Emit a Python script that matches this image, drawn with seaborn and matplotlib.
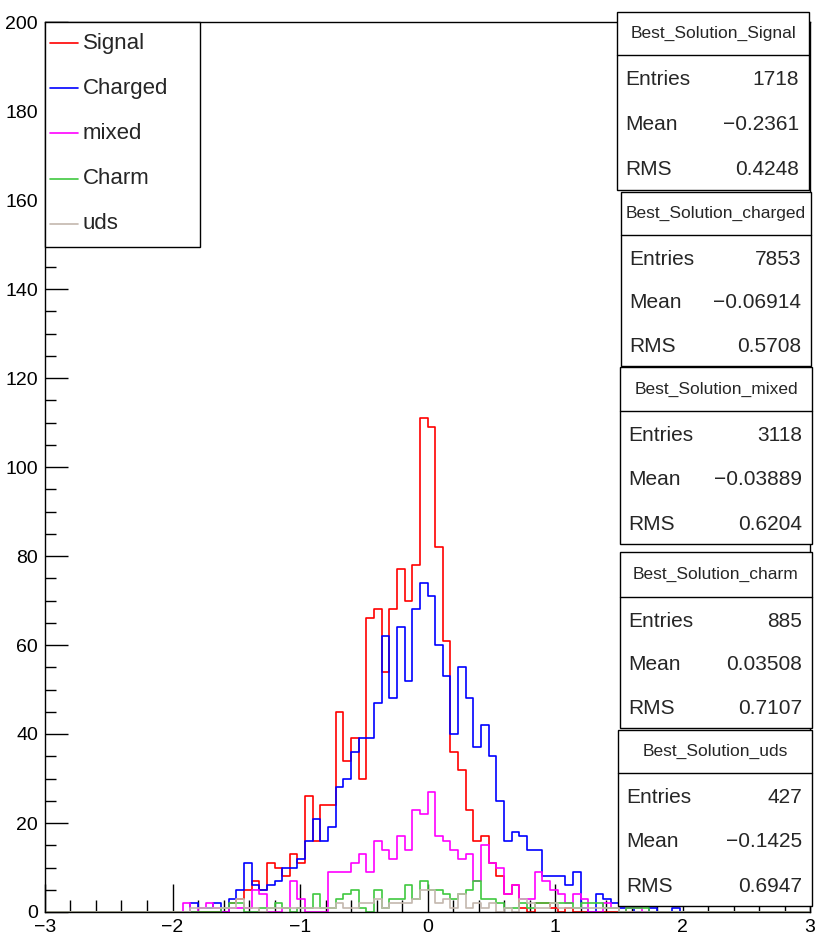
import numpy as np
import pandas as pd
import matplotlib
matplotlib.use('Agg')  # no display in the sandbox
import matplotlib.pyplot as plt
from matplotlib.patches import Rectangle
from matplotlib.lines import Line2D
from matplotlib.ticker import MultipleLocator
import seaborn as sns

# histogram binning: 100 bins from -3 to 3
x_min, x_max, n_bins = -3.0, 3.0, 100

# bin contents (bin 0 ... bin 99)
signal = [0, 0, 0, 0, 0, 0, 0, 0, 0, 0, 0, 0, 0, 0, 0, 0, 0, 0, 0, 0,
          0, 0, 0, 0, 2, 3, 5, 7, 5, 11, 10, 8, 13, 11, 26, 16, 24, 24, 45, 34,
          39, 30, 66, 68, 54, 68, 77, 70, 78, 111, 109, 82, 61, 36, 32, 23, 16, 17, 11, 8,
          4, 6, 1, 0, 2, 2, 1, 0, 1, 0, 0, 0, 0, 0, 0, 0, 0, 0, 0, 0,
          0, 0, 0, 0, 0, 0, 0, 0, 0, 0, 0, 0, 0, 0, 0, 0, 0, 0, 0, 0]
charged = [0, 0, 0, 0, 0, 0, 0, 0, 0, 0, 0, 0, 0, 0, 0, 0, 0, 0, 0, 2,
           1, 1, 2, 0, 3, 5, 11, 6, 5, 6, 7, 10, 10, 12, 16, 21, 16, 19, 28, 30,
           36, 39, 39, 47, 62, 48, 64, 52, 68, 74, 71, 60, 53, 40, 55, 48, 37, 42, 35, 25,
           16, 18, 17, 14, 14, 8, 8, 8, 6, 9, 1, 0, 4, 3, 2, 1, 1, 0, 0, 1,
           0, 0, 1, 0, 0, 0, 0, 0, 0, 0, 0, 0, 0, 0, 0, 0, 0, 0, 0, 0]
mixed = [0, 0, 0, 0, 0, 0, 0, 0, 0, 0, 0, 0, 0, 0, 0, 0, 0, 0, 2, 0,
         1, 2, 1, 0, 1, 1, 1, 5, 4, 0, 0, 1, 7, 3, 0, 0, 0, 9, 9, 9,
         11, 13, 9, 16, 14, 12, 17, 14, 23, 22, 27, 17, 16, 14, 12, 13, 7, 15, 11, 10,
         4, 6, 3, 3, 9, 7, 5, 4, 2, 4, 3, 0, 0, 2, 1, 0, 1, 1, 0, 0,
         0, 0, 0, 0, 0, 0, 0, 0, 0, 0, 0, 0, 0, 0, 0, 0, 0, 0, 0, 0]
charm = [0, 0, 0, 0, 0, 0, 0, 0, 0, 0, 0, 0, 0, 0, 0, 0, 0, 0, 0, 0,
         0, 0, 0, 1, 2, 2, 0, 0, 1, 1, 2, 1, 0, 1, 1, 4, 1, 1, 3, 4,
         5, 1, 0, 5, 1, 3, 3, 6, 3, 7, 5, 5, 4, 3, 4, 5, 7, 3, 3, 2,
         1, 1, 2, 1, 2, 2, 2, 2, 2, 1, 2, 2, 2, 1, 1, 0, 1, 1, 1, 0,
         0, 0, 0, 0, 0, 0, 0, 0, 0, 0, 0, 0, 0, 0, 0, 0, 0, 0, 0, 0]
uds = [0, 0, 0, 0, 0, 0, 0, 0, 0, 0, 0, 0, 0, 0, 0, 0, 0, 0, 0, 1,
       1, 1, 1, 1, 1, 3, 1, 1, 0, 1, 1, 1, 1, 1, 1, 1, 1, 1, 2, 1,
       1, 2, 2, 3, 1, 2, 2, 2, 3, 5, 5, 2, 3, 1, 4, 1, 2, 1, 2, 0,
       1, 0, 3, 2, 1, 1, 2, 1, 1, 1, 1, 1, 1, 1, 1, 0, 0, 0, 0, 0,
       0, 0, 0, 0, 0, 0, 0, 0, 0, 0, 0, 0, 0, 0, 0, 0, 0, 0, 0, 0]

labels = ['Signal', 'Charged', 'mixed', 'Charm', 'uds']
colors = ['#ff0000', '#0000ff', '#ff00ff', '#40c840', '#c4b8ae']

# statistics boxes
box_titles = ['Best_Solution_Signal', 'Best_Solution_charged', 'Best_Solution_mixed',
              'Best_Solution_charm', 'Best_Solution_uds']
entries = ['1718', '7853', '3118', '885', '427']
means = ['\u22120.2361', '\u22120.06914', '\u22120.03889', '0.03508', '\u22120.1425']
rms = ['0.4248', '0.5708', '0.6204', '0.7107', '0.6947']

W, H = 816, 951

sns.set_style('ticks')
plt.rcParams['font.family'] = ['Liberation Sans', 'DejaVu Sans']
plt.rcParams['axes.linewidth'] = 1.0


def fx(x):
    return x / W


def fy(y):
    return 1 - y / H


fig = plt.figure(figsize=(W / 100, H / 100), dpi=100)
ax = fig.add_axes([fx(45), fy(912), (810 - 45) / W, (912 - 22) / H])

edges = np.linspace(x_min, x_max, n_bins + 1)
centers = (edges[:-1] + edges[1:]) / 2
series = [signal, charged, mixed, charm, uds]
frames = []
for name, counts in zip(labels, series):
    frames.append(pd.DataFrame({'x': centers, 'count': counts, 'sample': name}))
df = pd.concat(frames, ignore_index=True)

for name, color in zip(labels, colors):
    sub = df[df['sample'] == name]
    sns.histplot(data=sub, x='x', weights='count', bins=n_bins, binrange=(x_min, x_max),
                 element='step', fill=False, color=color, linewidth=1.2, ax=ax)

ax.set_xlim(x_min, x_max)
ax.set_ylim(0, 200)
ax.set_xlabel('')
ax.set_ylabel('')
for side in ['top', 'right', 'left', 'bottom']:
    ax.spines[side].set_visible(True)
    ax.spines[side].set_color('black')

ax.xaxis.set_major_locator(MultipleLocator(1))
ax.xaxis.set_minor_locator(MultipleLocator(0.2))
ax.yaxis.set_major_locator(MultipleLocator(20))
ax.yaxis.set_minor_locator(MultipleLocator(5))
ax.tick_params(axis='both', which='both', direction='in', colors='black', labelsize=14, width=1)
ax.tick_params(axis='x', which='major', length=20, pad=5)
ax.tick_params(axis='x', which='minor', length=9)
ax.tick_params(axis='y', which='major', length=16.5, pad=5)
ax.tick_params(axis='y', which='minor', length=8)

# legend box in the upper left corner
fig.add_artist(Rectangle((fx(45), fy(247)), (200 - 45) / W, (247 - 22) / H,
                         transform=fig.transFigure, facecolor='white',
                         edgecolor='black', linewidth=1, zorder=5))
row_y = 43
for name, color in zip(labels, colors):
    fig.add_artist(Line2D([fx(50), fx(78)], [fy(row_y), fy(row_y)], color=color,
                          linewidth=1.2, transform=fig.transFigure, zorder=6))
    fig.text(fx(83), fy(row_y), name, fontsize=16, ha='left', va='center', zorder=6)
    row_y += 45.2

# stats boxes on the right: left, right, top, divider, bottom (pixels)
boxes = [(617, 809, 12, 55, 190),
         (621, 811, 192, 235, 366),
         (620, 812, 367, 411, 544),
         (620, 812, 552, 597, 728),
         (618, 812, 730, 773, 906)]
for (x0, x1, y0, yd, y1), title, ent, mn, rm in zip(boxes, box_titles, entries, means, rms):
    fig.add_artist(Rectangle((fx(x0), fy(y1)), (x1 - x0) / W, (y1 - y0) / H,
                             transform=fig.transFigure, facecolor='white',
                             edgecolor='black', linewidth=1, zorder=5))
    fig.add_artist(Line2D([fx(x0), fx(x1)], [fy(yd), fy(yd)], color='black',
                          linewidth=1, transform=fig.transFigure, zorder=6))
    fig.text(fx((x0 + x1) / 2), fy((y0 + yd) / 2), title, fontsize=12.5,
             ha='center', va='center', zorder=6)
    step = (y1 - yd) / 3
    for k, (lab, val) in enumerate([('Entries', ent), ('Mean', mn), ('RMS', rm)]):
        yy = yd + step * (k + 0.55)
        fig.text(fx(x0 + 8), fy(yy), lab, fontsize=15, ha='left', va='center', zorder=6)
        fig.text(fx(x1 - 10), fy(yy), val, fontsize=15, ha='right', va='center', zorder=6)

fig.savefig('out.png', dpi=100)
plt.close(fig)
